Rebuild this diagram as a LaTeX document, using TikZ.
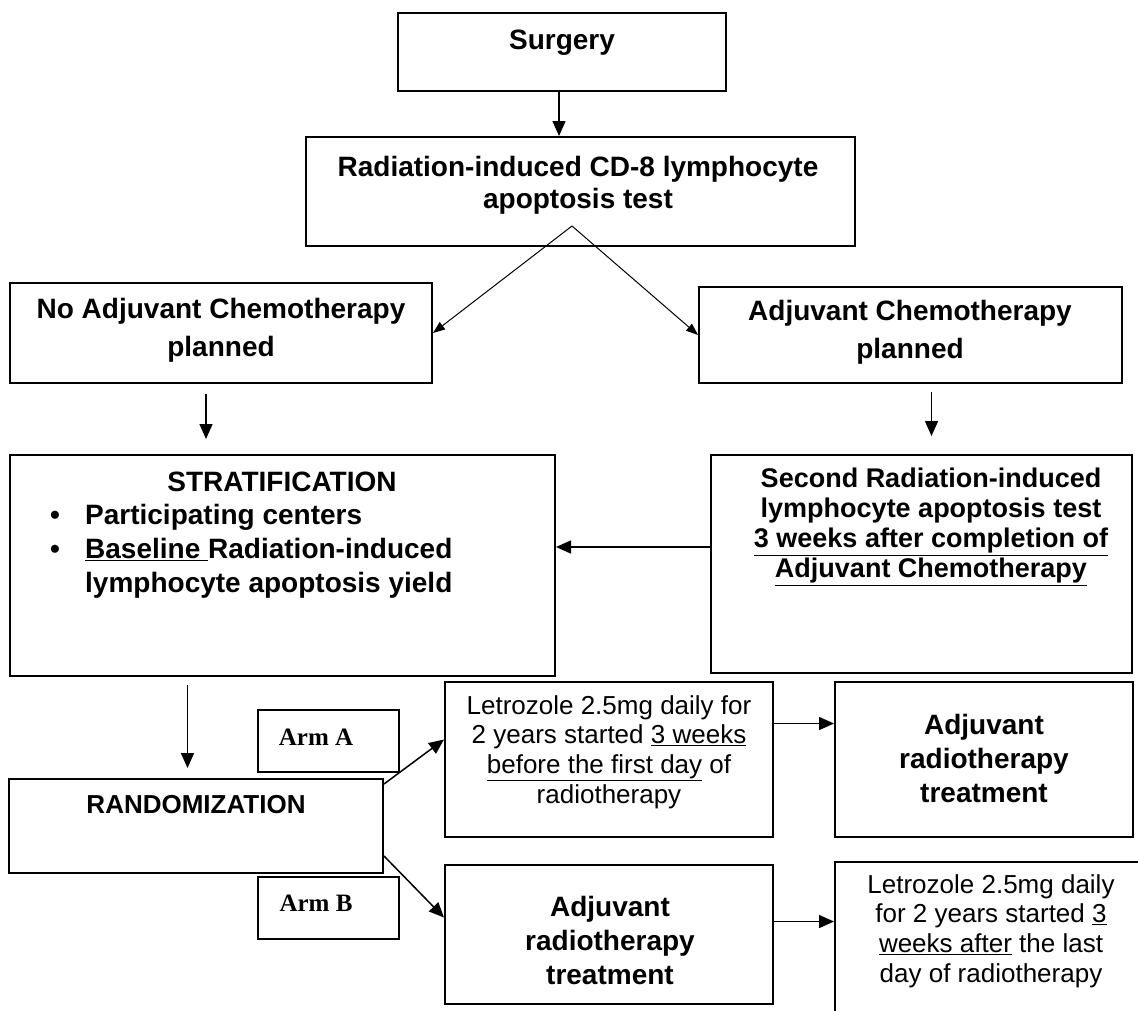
\documentclass[tikz,border=0pt]{standalone}
\usepackage{fontspec}
\setmainfont{Liberation Sans}
\newfontfamily\armfont{Liberation Serif}
\usetikzlibrary{arrows.meta}
\tikzstyle{box}=[draw,rectangle,line width=2pt,inner sep=0pt]
\tikzstyle{arr}=[line width=1.5pt,-{Triangle[length=15pt,width=13pt]}]
\tikzstyle{thinarr}=[line width=1pt,-{Triangle[length=12pt,width=9pt]}]
\tikzstyle{bigbold}=[font=\fontsize{28}{32}\selectfont\bfseries,align=center,inner sep=0pt]
\tikzstyle{loosebold}=[font=\fontsize{28}{38}\selectfont\bfseries,align=center,inner sep=0pt]
\tikzstyle{radbold}=[font=\fontsize{28}{34}\selectfont\bfseries,align=center,inner sep=0pt]
\tikzstyle{medbold}=[font=\fontsize{26}{29}\selectfont\bfseries,align=center,inner sep=0pt]
\tikzstyle{plaintext}=[font=\fontsize{26}{29.7}\selectfont,align=center,inner sep=0pt]
\tikzstyle{armtext}=[font=\fontsize{25}{29}\armfont\bfseries,inner sep=0pt]

\begin{document}
\begin{tikzpicture}[x=1pt,y=-1pt]
\useasboundingbox (0,0) rectangle (1138,1010);
\clip (0,0) rectangle (1138,1010);
% boxes
\node [box,minimum width=328pt,minimum height=78pt] (surg) at (562,52) {};
\node [box,minimum width=549pt,minimum height=109pt] (test) at (580.5,191.5) {};
\node [box,minimum width=422pt,minimum height=100pt] (noadj) at (221,333) {};
\node [box,minimum width=423pt,minimum height=96pt] (adj) at (910.5,335) {};
\node [box,minimum width=545pt,minimum height=221pt] (strat) at (282.5,565.5) {};
\node [box,minimum width=421pt,minimum height=218pt] (second) at (921.5,564) {};
\node [box,minimum width=374pt,minimum height=94pt] (rand) at (196,826) {};
\node [box,minimum width=141pt,minimum height=62pt] (armA) at (328.5,741) {};
\node [box,minimum width=141pt,minimum height=62pt] (armB) at (328.5,908) {};
\node [box,minimum width=328pt,minimum height=155pt] (letA) at (609,759.5) {};
\node [box,minimum width=298pt,minimum height=155pt] (radA) at (984,759.5) {};
\node [box,minimum width=328pt,minimum height=139pt] (radB) at (609,934.5) {};
\node [box,minimum width=312pt,minimum height=198pt] (letB) at (991,961) {};
% texts
\node [bigbold] (tsurg) at (562,43) {Surgery};
\node [bigbold] (ttest) at (578,185) {Radiation-induced CD-8 lymphocyte\\apoptosis test};
\node [loosebold] (tnoadj) at (221,330) {No Adjuvant Chemotherapy\\planned};
\node [loosebold] (tadj) at (910,332) {Adjuvant Chemotherapy\\planned};
\node [bigbold] (tstrat) at (282,482) {STRATIFICATION};
\node [bigbold,font=\fontsize{28}{34}\selectfont\bfseries,align=left,anchor=west] (tlist) at (50,551)
  {\makebox[35pt][l]{•}Participating centers\\
   \makebox[35pt][l]{•}\underline{Baseline\ }Radiation-induced\\
   \hspace*{35pt}lymphocyte apoptosis yield};
\node [medbold,font=\fontsize{27}{30}\selectfont\bfseries] (tsecond) at (931,527) {Second Radiation-induced\\lymphocyte apoptosis test\\
  \underline{3 weeks after completion of}\\\underline{Adjuvant Chemotherapy}};
\node [medbold] (trand) at (196,805) {RANDOMIZATION};
\node [armtext] (tarmA) at (316,737) {Arm A};
\node [armtext] (tarmB) at (316,903) {Arm B};
\node [plaintext] (tletA) at (609,752) {Letrozole 2.5mg daily for\\2 years started \underline{3 weeks}\\
  \underline{before the first day} of\\radiotherapy};
\node [radbold] (tradA) at (984,758) {Adjuvant\\radiotherapy\\treatment};
\node [radbold] (tradB) at (610,940) {Adjuvant\\radiotherapy\\treatment};
\node [plaintext] (tletB) at (991,931) {Letrozole 2.5mg daily\\for 2 years started \underline{3}\\
  \underline{weeks after} the last\\day of radiotherapy};
% connectors
\coordinate (vtop) at (572,226);
\draw [arr] ([xshift=-3pt]surg.south) -- ([xshift=-3pt]surg.south |- test.north);
\draw [thinarr] (vtop) -- (noadj.east);
\draw [thinarr] (vtop) -- (adj.west);
\draw [arr,shorten <=10pt,shorten >=15pt] ([xshift=-15pt]noadj.south) -- ([xshift=-15pt]noadj.south |- strat.north);
\draw [arr,shorten <=8pt,shorten >=18pt] ([xshift=21pt]adj.south) -- ([xshift=21pt]adj.south |- second.north);
\draw [arr] ([yshift=17pt]second.west) -- ([yshift=17pt]second.west -| strat.east);
\draw [arr,shorten <=8pt,shorten >=10pt] ([xshift=-95pt]strat.south) -- ([xshift=-95pt]strat.south |- rand.north);
\draw [arr] ([yshift=-6pt]rand.north east) -- ([yshift=20pt]letA.west);
\draw [arr] ([yshift=18pt]rand.south east) -- ([yshift=17pt]radB.west);
\draw [arr] ([yshift=36pt]letA.east) -- ([yshift=36pt]letA.east -| radA.west);
\draw [arr] ([yshift=13pt]radB.east) -- ([yshift=13pt]radB.east -| letB.west);
\end{tikzpicture}
\end{document}
